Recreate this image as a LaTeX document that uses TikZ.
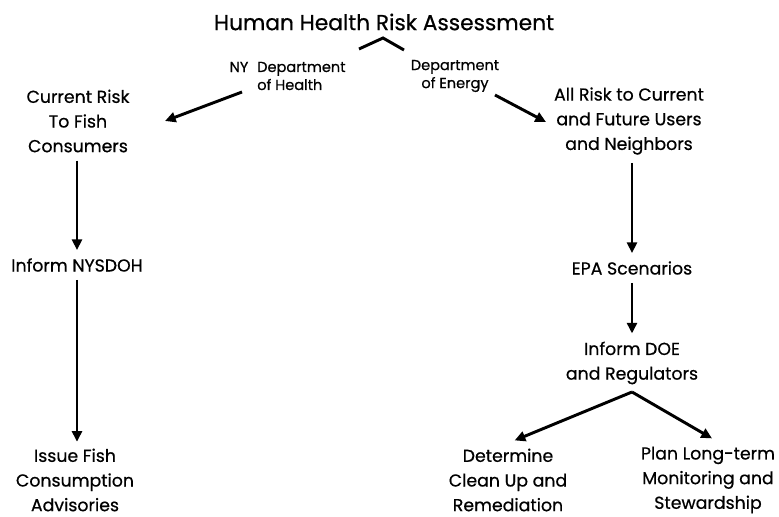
\documentclass[tikz,border=0pt]{standalone}
\usepackage{fontspec}
\setmainfont{Poppins}[FakeBold=0.6]
\usetikzlibrary{arrows.meta}

\begin{document}
\begin{tikzpicture}[
        x=0.75pt, y=-0.75pt,
        box/.style={inner sep=0pt, align=center, font=\fontsize{13}{18.5}\selectfont},
        lbl/.style={inner sep=0pt, font=\fontsize{10.9}{13.5}\selectfont},
        arr/.style={line width=2.2pt, -{Triangle[length=8pt, width=7.5pt]}},
        ln/.style={line width=2.2pt}
    ]
    \useasboundingbox (0,0) rectangle (779,517);
    % title and its two branches
    \node[box, font=\fontsize{16.3}{20}\selectfont] (hhra) at (384,22) {Human Health Risk Assessment};
    \coordinate (cl) at (359,49);
    \coordinate (ct) at (383,38);
    \coordinate (cr) at (404,50);
    \draw[ln] (cl) -- (ct) -- (cr);
    \node[lbl] (ny) at (239,67) {NY};
    \node[lbl, align=left, anchor=west] (doh) at (257,76) {Department\\of Health};
    \node[lbl, align=center] (doenergy) at (455,76) {Department\\of Energy};

    % left branch
    \node[box] (fish) at (78,121) {Current Risk\\To Fish\\Consumers};
    \node[box] (nysdoh) at (77,265) {Inform NYSDOH};
    \node[box] (advis) at (75,480) {Issue Fish\\Consumption\\Advisories};

    % right branch
    \node[box] (users) at (629,121) {All Risk to Current\\and Future Users\\and Neighbors};
    \node[box] (epa) at (632,268) {EPA Scenarios};
    \node[box] (inform) at (632,363) {Inform DOE\\and Regulators};
    \node[box] (clean) at (508,480) {Determine\\Clean Up and\\Remediation};
    \node[box] (steward) at (708,480) {Plan Long-term\\Monitoring and\\Stewardship};

    \coordinate (hfoot) at (242,92);
    \coordinate (hhead) at (165,121);
    \coordinate (efoot) at (495,95);
    \coordinate (ehead) at (546,122);
    \coordinate (split) at (632,392);

    \draw[arr] (hfoot) -- (hhead);
    \draw[arr] (efoot) -- (ehead);
    \draw[arr] ([yshift=-6pt]fish.south -| nysdoh) -- ([yshift=6pt]nysdoh.north);
    \draw[arr] ([yshift=-6pt]nysdoh.south) -- ([yshift=5pt]advis.north -| nysdoh);
    \draw[arr] ([yshift=-6pt]users.south -| epa) -- ([yshift=6pt]epa.north);
    \draw[arr] ([yshift=-6pt]epa.south) -- ([yshift=6pt]inform.north);
    \draw[arr] (split) -- ([shift={(5pt,6pt)}]clean.north);
    \draw[arr] (split) -- ([shift={(3pt,6pt)}]steward.north);
\end{tikzpicture}
\end{document}
